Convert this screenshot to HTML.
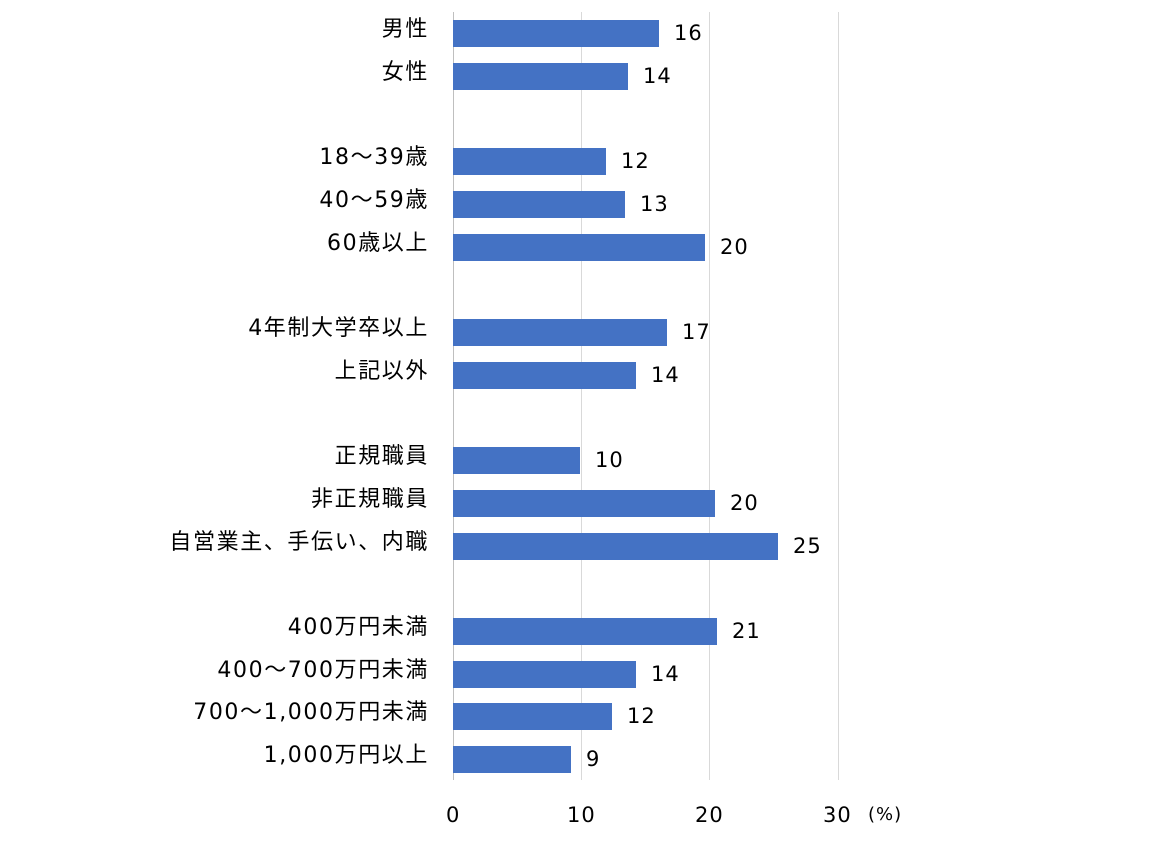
<!DOCTYPE html>
<html><head><meta charset="utf-8"><style>
body{margin:0;background:#fff;width:1160px;height:848px;overflow:hidden;position:relative;font-family:"DejaVu Sans","Noto Sans CJK JP",sans-serif;color:#000}
.g{position:absolute;top:12px;height:768px;width:1px;background:#d9d9d9}
.b{position:absolute;left:453px;height:27px;background:#4472c4}
.l{position:absolute;right:733px;font-size:22px;line-height:24px;white-space:nowrap;letter-spacing:1.6px;margin-right:-2px}
.v{position:absolute;font-size:21px;line-height:24px;letter-spacing:1px}
.t{position:absolute;top:803px;font-size:21px;line-height:24px;letter-spacing:1px}
</style></head><body>
<div class="g" style="left:581px"></div>
<div class="g" style="left:709px"></div>
<div class="g" style="left:838px"></div>
<div class="g" style="left:453px;background:#bfbfbf"></div>

<div class="b" style="top:20px;width:206px"></div><div class="l" style="top:18px">男性</div><div class="v" style="left:674px;top:21px">16</div>
<div class="b" style="top:63px;width:175px"></div><div class="l" style="top:61px">女性</div><div class="v" style="left:643px;top:64px">14</div>
<div class="b" style="top:148px;width:153px"></div><div class="l" style="top:146px">18～39歳</div><div class="v" style="left:621px;top:149px">12</div>
<div class="b" style="top:191px;width:172px"></div><div class="l" style="top:189px">40～59歳</div><div class="v" style="left:640px;top:192px">13</div>
<div class="b" style="top:234px;width:252px"></div><div class="l" style="top:232px">60歳以上</div><div class="v" style="left:720px;top:235px">20</div>
<div class="b" style="top:319px;width:214px"></div><div class="l" style="top:317px">4年制大学卒以上</div><div class="v" style="left:682px;top:320px">17</div>
<div class="b" style="top:362px;width:183px"></div><div class="l" style="top:360px">上記以外</div><div class="v" style="left:651px;top:363px">14</div>
<div class="b" style="top:447px;width:127px"></div><div class="l" style="top:445px">正規職員</div><div class="v" style="left:595px;top:448px">10</div>
<div class="b" style="top:490px;width:262px"></div><div class="l" style="top:488px">非正規職員</div><div class="v" style="left:730px;top:491px">20</div>
<div class="b" style="top:533px;width:325px"></div><div class="l" style="top:531px">自営業主、手伝い、内職</div><div class="v" style="left:793px;top:534px">25</div>
<div class="b" style="top:618px;width:264px"></div><div class="l" style="top:616px">400万円未満</div><div class="v" style="left:732px;top:619px">21</div>
<div class="b" style="top:661px;width:183px"></div><div class="l" style="top:659px">400～700万円未満</div><div class="v" style="left:651px;top:662px">14</div>
<div class="b" style="top:703px;width:159px"></div><div class="l" style="top:701px">700～1,000万円未満</div><div class="v" style="left:627px;top:704px">12</div>
<div class="b" style="top:746px;width:118px"></div><div class="l" style="top:744px">1,000万円以上</div><div class="v" style="left:586px;top:747px">9</div>

<div class="t" style="left:446px">0</div>
<div class="t" style="left:567px">10</div>
<div class="t" style="left:695px">20</div>
<div class="t" style="left:823px">30</div>
<div class="t" style="left:868px;font-size:18px">(%)</div>
</body></html>
